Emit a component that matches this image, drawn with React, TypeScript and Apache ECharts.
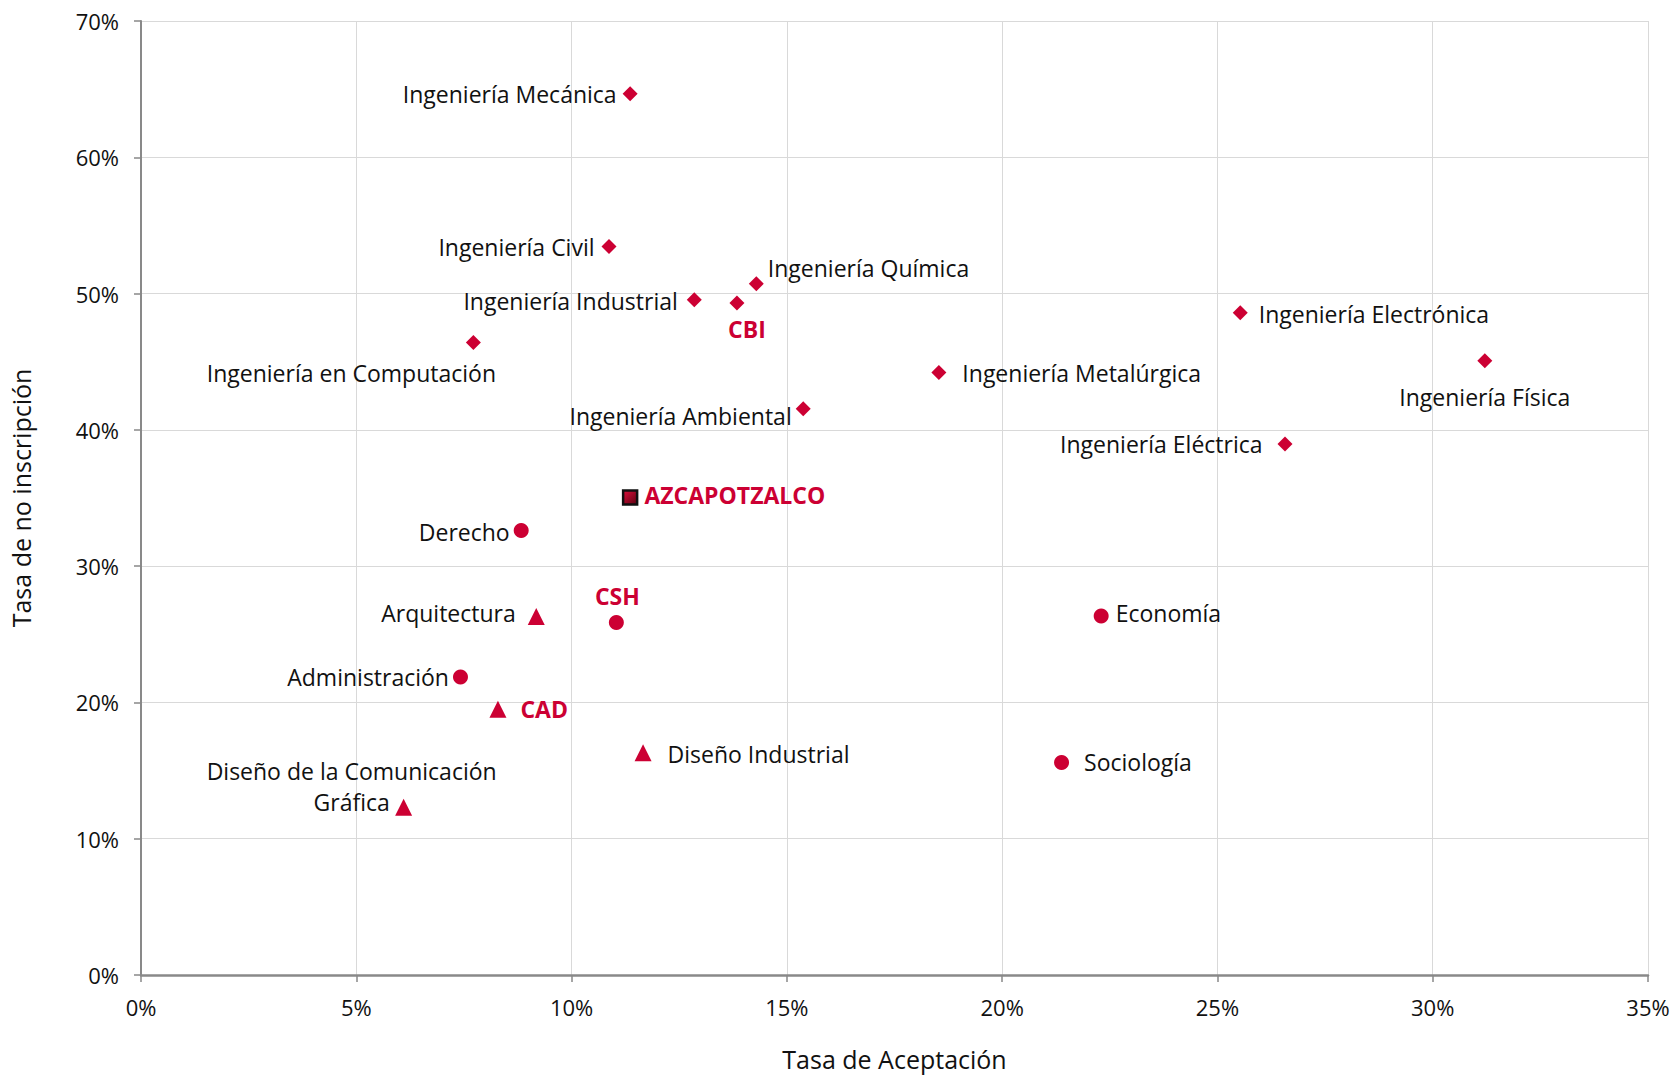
import React, { useEffect, useRef } from "react";
import * as echarts from "echarts";

// Data (percent values)
const cbiNames = [
  "Ingeniería Mecánica",
  "Ingeniería Civil",
  "Ingeniería Química",
  "Ingeniería Industrial",
  "Ingeniería Electrónica",
  "Ingeniería en Computación",
  "Ingeniería Física",
  "Ingeniería Metalúrgica",
  "Ingeniería Ambiental",
  "Ingeniería Eléctrica",
];
const cbiX = [11.36, 10.87, 14.29, 12.85, 25.53, 7.72, 31.21, 18.53, 15.38, 26.57];
const cbiY = [64.67, 53.46, 50.72, 49.54, 48.6, 46.41, 45.07, 44.21, 41.55, 38.96];

const cshNames = ["Derecho", "Economía", "Administración", "Sociología"];
const cshX = [8.83, 22.3, 7.42, 21.38];
const cshY = [32.61, 26.34, 21.87, 15.6];

const cadNames = ["Arquitectura", "Diseño Industrial", "Diseño de la Comunicación\nGráfica"];
const cadX = [9.18, 11.66, 6.1];
const cadY = [26.3, 16.3, 12.3];

const divisionNames = ["CBI", "CSH", "CAD"];
const divisionX = [13.84, 11.04, 8.29];
const divisionY = [49.31, 25.87, 19.5];

const unitName = "AZCAPOTZALCO";
const unitX = 11.36;
const unitY = 35.04;

const xTicks = [0, 5, 10, 15, 20, 25, 30, 35];
const yTicks = [0, 10, 20, 30, 40, 50, 60, 70];

const RED = "#CC0033";
const TEXT = "#111111";
const FONT = "'Open Sans', sans-serif";

// label placement (style only)
const labelPlace: Record<string, any> = {
  "Ingeniería Mecánica": { position: "left", offset: [-1, 0] },
  "Ingeniería Civil": { position: "left", offset: [-2, 1] },
  "Ingeniería Química": { position: "right", offset: [-1, -16] },
  "Ingeniería Industrial": { position: "left", offset: [-4, 1] },
  "Ingeniería Electrónica": { position: "right", offset: [6, 1] },
  "Ingeniería en Computación": { position: "bottom", offset: [-122, 3] },
  "Ingeniería Física": { position: "bottom", offset: [0, 8] },
  "Ingeniería Metalúrgica": { position: "right", offset: [11, 1] },
  "Ingeniería Ambiental": { position: "left", offset: [1, 7] },
  "Ingeniería Eléctrica": { position: "left", offset: [-10, 0] },
  Derecho: { position: "left", offset: [1, 1] },
  Economía: { position: "right", offset: [2, -3] },
  Administración: { position: "left", offset: [1, 0] },
  Sociología: { position: "right", offset: [10, 0] },
  Arquitectura: { position: "left", offset: [-7, -4] },
  "Diseño Industrial": { position: "right", offset: [11, 1] },
  "Diseño de la Comunicación\nGráfica": { position: "inside", offset: [-52, -21], align: "center" },
  CBI: { position: "bottom", offset: [10, -2] },
  CSH: { position: "top", offset: [1, 2] },
  CAD: { position: "right", offset: [9, 0] },
  AZCAPOTZALCO: { position: "right", offset: [1, -2] },
};

function buildData(names: string[], xs: number[], ys: number[], bold: boolean) {
  return names.map((n, i) => {
    const p = labelPlace[n] || { position: "right" };
    return {
      name: n,
      value: [xs[i], ys[i]],
      label: {
        show: true,
        formatter: n,
        position: p.position,
        offset: p.offset,
        align: p.align,
        distance: 5,
        color: bold ? RED : TEXT,
        fontWeight: bold ? "bold" : "normal",
        fontSize: 23,
        fontFamily: FONT,
        lineHeight: 31,
      },
    };
  });
}

export default function App() {
  const ref = useRef<HTMLDivElement>(null);
  useEffect(() => {
    if (!ref.current) return;
    const chart = echarts.init(ref.current, null, { renderer: "svg" });
    const axisLabelStyle = { color: TEXT, fontSize: 22, fontFamily: FONT };
    chart.setOption({
      animation: false,
      backgroundColor: "#ffffff",
      grid: { left: 141, right: 27, top: 21, bottom: 101, containLabel: false },
      xAxis: {
        type: "value",
        min: xTicks[0],
        max: xTicks[xTicks.length - 1],
        interval: 5,
        name: "Tasa de Aceptación",
        nameLocation: "middle",
        nameGap: 71,
        nameTextStyle: { color: TEXT, fontSize: 25, fontFamily: FONT },
        axisLine: { show: true, lineStyle: { color: "#898989", width: 2.5 } },
        axisTick: { show: true, inside: false, length: 7, lineStyle: { color: "#898989", width: 1.5 } },
        axisLabel: { ...axisLabelStyle, margin: 21, formatter: "{value}%" },
        splitLine: { show: true, lineStyle: { color: "#d9d9d9", width: 1 } },
      },
      yAxis: {
        type: "value",
        min: yTicks[0],
        max: yTicks[yTicks.length - 1],
        interval: 10,
        name: "Tasa de no inscripción",
        nameLocation: "middle",
        nameGap: 108,
        nameTextStyle: { color: TEXT, fontSize: 25, fontFamily: FONT },
        axisLine: { show: true, lineStyle: { color: "#898989", width: 2 } },
        axisTick: { show: true, inside: false, length: 7, lineStyle: { color: "#898989", width: 1.5 } },
        axisLabel: { ...axisLabelStyle, margin: 22, formatter: "{value}%" },
        splitLine: { show: true, lineStyle: { color: "#d9d9d9", width: 1 } },
      },
      series: [
        {
          type: "scatter",
          name: "CBI programas",
          symbol: "diamond",
          symbolSize: 15,
          itemStyle: { color: RED, opacity: 1 },
          data: buildData(cbiNames, cbiX, cbiY, false),
        },
        {
          type: "scatter",
          name: "CSH programas",
          symbol: "circle",
          symbolSize: 15,
          itemStyle: { color: RED, opacity: 1 },
          data: buildData(cshNames, cshX, cshY, false),
        },
        {
          type: "scatter",
          name: "CAD programas",
          symbol: "triangle",
          symbolSize: 17,
          itemStyle: { color: RED, opacity: 1 },
          data: buildData(cadNames, cadX, cadY, false),
        },
        {
          type: "scatter",
          name: "Divisiones",
          symbolSize: 15,
          itemStyle: { color: RED, opacity: 1 },
          data: buildData(divisionNames, divisionX, divisionY, true).map((d, i) => ({
            ...d,
            symbol: ["diamond", "circle", "triangle"][i],
            symbolSize: [15, 15, 17][i],
          })),
        },
        {
          type: "scatter",
          name: "Unidad",
          symbol: "rect",
          symbolSize: 14,
          itemStyle: {
            opacity: 1,
            color: new echarts.graphic.LinearGradient(0, 0, 1, 1, [
              { offset: 0, color: "#e0103c" },
              { offset: 1, color: "#5a0010" },
            ]),
            borderColor: "#111111",
            borderWidth: 2.5,
          },
          data: buildData([unitName], [unitX], [unitY], true),
        },
      ],
    });
    return () => chart.dispose();
  }, []);
  return (
    <div
      ref={ref}
      style={{ position: "absolute", left: 0, top: 0, width: 1675, height: 1076 }}
    />
  );
}
